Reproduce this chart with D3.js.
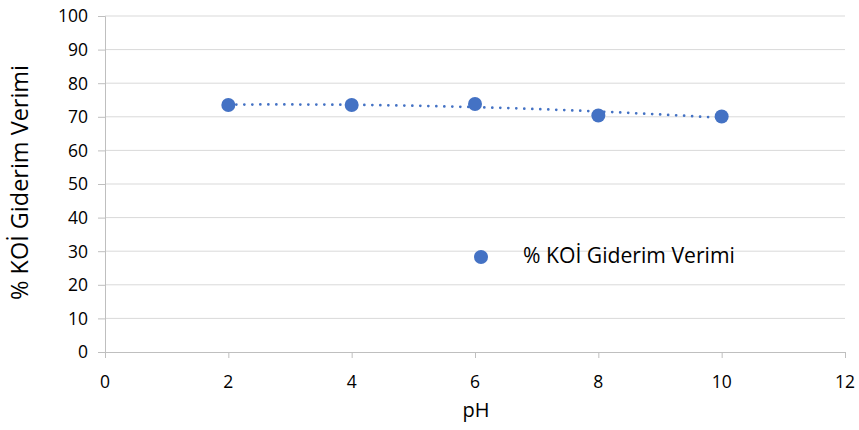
<!DOCTYPE html>
<html>
<head>
<meta charset="utf-8">
<script src="https://cdn.jsdelivr.net/npm/d3@7"></script>
<style>
  html, body { margin: 0; padding: 0; background: #fff; }
  svg text { font-family: "Open Sans", "Noto Sans", sans-serif; fill: #000; }
  .tick-label { font-size: 17.5px; }
</style>
</head>
<body>
<svg id="chart" width="859" height="430"></svg>
<script>
// pH values and the measured COD removal efficiency at each
const phValues = [2, 4, 6, 8, 10];
const removalEfficiency = [73.5, 73.5, 73.8, 70.4, 70.1];
const xTicks = [0, 2, 4, 6, 8, 10, 12];
const yTicks = [0, 10, 20, 30, 40, 50, 60, 70, 80, 90, 100];
const seriesName = "% KOİ Giderim Verimi";
const xTitle = "pH";
const yTitle = "% KOİ Giderim Verimi";

const svg = d3.select("#chart");
const plotLeft = 105, plotRight = 845, plotTop = 16, plotBottom = 352;
const blue = "#4472c4";

const x = d3.scaleLinear().domain([0, 12]).range([plotLeft, plotRight]);
const y = d3.scaleLinear().domain([0, 100]).range([plotBottom, plotTop]);

// size a text element so that it spans the given width
function fitWidth(sel, width) {
  const node = sel.node();
  sel.style("font-size", "100px");
  const w = node.getComputedTextLength();
  sel.style("font-size", (100 * width / w).toFixed(2) + "px");
  return sel;
}

// horizontal gridlines
svg.append("g").selectAll("line").data(yTicks.filter(v => v > 0)).join("line")
  .attr("x1", plotLeft).attr("x2", plotRight)
  .attr("y1", d => y(d)).attr("y2", d => y(d))
  .attr("stroke", "#d9d9d9").attr("stroke-width", 1);

// y axis (line and tick marks), labels drawn separately
const yAxis = svg.append("g").attr("transform", `translate(${plotLeft},0)`)
  .call(d3.axisLeft(y).tickValues(yTicks).tickSize(7).tickFormat(""));
yAxis.select(".domain").attr("stroke", "#bfbfbf");
yAxis.selectAll(".tick line").attr("stroke", "#bfbfbf");
svg.append("g").selectAll("text").data(yTicks).join("text")
  .attr("class", "tick-label")
  .attr("x", plotLeft - 17).attr("y", d => y(d)).attr("dy", "0.36em")
  .attr("text-anchor", "end").text(d => d);

// x axis
const xAxis = svg.append("g").attr("transform", `translate(0,${plotBottom})`)
  .call(d3.axisBottom(x).tickValues(xTicks).tickSize(6).tickFormat(""));
xAxis.select(".domain").attr("stroke", "#bfbfbf");
xAxis.selectAll(".tick line").attr("stroke", "#bfbfbf");
svg.append("g").selectAll("text").data(xTicks).join("text")
  .attr("class", "tick-label")
  .attr("x", d => x(d)).attr("y", plotBottom + 36)
  .attr("text-anchor", "middle").text(d => d);

// second-order polynomial trendline (least squares) over the data range
function polyFit(xs, ys, order) {
  const n = order + 1;
  const A = Array.from({length: n}, () => new Array(n + 1).fill(0));
  for (let i = 0; i < xs.length; i++) {
    for (let r = 0; r < n; r++) {
      for (let c = 0; c < n; c++) A[r][c] += Math.pow(xs[i], r + c);
      A[r][n] += ys[i] * Math.pow(xs[i], r);
    }
  }
  for (let p = 0; p < n; p++) {
    let m = p;
    for (let r = p + 1; r < n; r++) if (Math.abs(A[r][p]) > Math.abs(A[m][p])) m = r;
    [A[p], A[m]] = [A[m], A[p]];
    for (let r = 0; r < n; r++) {
      if (r === p) continue;
      const f = A[r][p] / A[p][p];
      for (let c = p; c <= n; c++) A[r][c] -= f * A[p][c];
    }
  }
  return A.map((row, i) => row[n] / row[i]);
}
const coef = polyFit(phValues, removalEfficiency, 2);
const trend = d3.range(0, 101).map(i => {
  const xv = 2 + i * 0.08;
  return [xv, coef[0] + coef[1] * xv + coef[2] * xv * xv];
});
svg.append("path").datum(trend)
  .attr("d", d3.line().x(d => x(d[0])).y(d => y(d[1])))
  .attr("fill", "none").attr("stroke", blue).attr("stroke-width", 2.75)
  .attr("stroke-linecap", "round").attr("stroke-dasharray", "0,8");

// data points
svg.append("g").selectAll("circle").data(phValues).join("circle")
  .attr("cx", d => x(d)).attr("cy", (d, i) => y(removalEfficiency[i]))
  .attr("r", 7).attr("fill", blue);

// legend
svg.append("circle").attr("cx", 481).attr("cy", 257).attr("r", 7).attr("fill", blue);
fitWidth(svg.append("text").attr("x", 523).attr("y", 263).text(seriesName), 212);

// axis titles
fitWidth(svg.append("text").attr("x", 476).attr("y", 417)
  .attr("text-anchor", "middle").text(xTitle), 27);
fitWidth(svg.append("text").attr("transform", `translate(28,182.5) rotate(-90)`)
  .attr("text-anchor", "middle").text(yTitle), 235);
</script>
</body>
</html>
